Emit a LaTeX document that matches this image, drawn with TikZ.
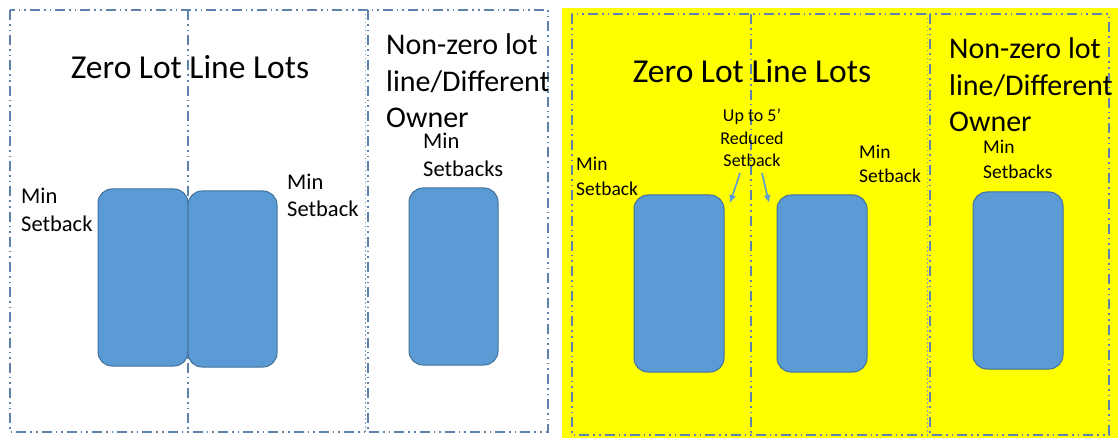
\documentclass[tikz,border=0pt]{standalone}
\usepackage{fontspec}
\setmainfont{Carlito}
\usetikzlibrary{arrows.meta}
\definecolor{lotblue}{HTML}{5B9BD5}
\definecolor{lotedge}{HTML}{41719C}
\definecolor{lineblue}{HTML}{5F82AC}
\definecolor{yel}{HTML}{FFFF00}
\newcommand\lotstack[2]{\begin{tabular}[t]{@{}#1@{}}#2\end{tabular}}
\begin{document}
\begin{tikzpicture}[x=1pt,y=-1pt,
  lotline/.style={draw=lineblue, line width=1.7pt, dash pattern=on 10pt off 4pt on 1.6pt off 4pt on 1.6pt off 4pt},
  dotline/.style={draw=lineblue!75, line width=1pt, dash pattern=on 1.5pt off 2.5pt},
  house/.style={fill=lotblue, draw=lotedge, line width=1pt, rounded corners=14pt, inner sep=0pt, minimum width=90pt, minimum height=177pt},
  bigtxt/.style={font=\fontsize{33.5}{40}\selectfont, inner sep=0pt, anchor=base},
  midtxt/.style={font=\fontsize{30}{36.5}\selectfont, inner sep=0pt, anchor=base west},
  smalltxt/.style={font=\fontsize{22.5}{28}\selectfont, inner sep=0pt, anchor=base west},
  ysmalltxt/.style={font=\fontsize{19.5}{25}\selectfont, inner sep=0pt, anchor=base west},
  tinytxt/.style={font=\fontsize{18}{22.5}\selectfont, inner sep=0pt, anchor=base},
  pointer/.style={draw=lotblue, line width=1.6pt, -{Latex[length=8pt,width=7pt]}}
]
\useasboundingbox (0,0) rectangle (1118,438);
\fill[white] (0,0) rectangle (1118,438);

% ---------- left panel ----------
\draw[lotline] (10,10) rectangle (548,432);
\draw[lotline] (188,10) -- (188,432);
\draw[lotline] (368,10) -- (368,432);
\draw[dotline] (365,10) -- (365,432);

\node[house] (b1) at (143,277.5) {};
\node[house, minimum width=89pt, minimum height=176pt] (b2) at (232.5,279) {};
\node[house, minimum width=89pt] (b3) at (453.5,276.5) {};

\node[bigtxt] (t1) at (190,79) {Zero Lot Line Lots};
\node[midtxt] (t2) at (386,55) {\lotstack{l}{Non-zero lot\\line/Different\\Owner}};
\node[smalltxt] (t3) at (423,149) {\lotstack{l}{Min\\Setbacks}};
\node[smalltxt] (t4) at (21,204) {\lotstack{l}{Min\\Setback}};
\node[smalltxt, font=\fontsize{22.5}{27}\selectfont] (t5) at (287,190) {\lotstack{l}{Min\\Setback}};

% ---------- right panel ----------
\fill[yel] (562,8) rectangle (1118,438);
\draw[lotline] (572,14) rectangle (1109,435);
\draw[lotline] (751,14) -- (751,435);
\draw[lotline] (930,14) -- (930,435);
\draw[dotline] (927,14) -- (927,435);

\node[house] (b4) at (679,283.5) {};
\node[house] (b5) at (822,283.5) {};
\node[house] (b6) at (1018,280.5) {};

\node[bigtxt] (y1) at (752,83) {Zero Lot Line Lots};
\node[midtxt] (y2) at (949,59) {\lotstack{l}{Non-zero lot\\line/Different\\Owner}};
\node[tinytxt] (y3) at (752,122) {\lotstack{c}{Up to 5’\\Reduced\\Setback}};
\node[ysmalltxt] (y4) at (576,171) {\lotstack{l}{Min\\Setback}};
\node[ysmalltxt, font=\fontsize{19.5}{24}\selectfont] (y5) at (859,159) {\lotstack{l}{Min\\Setback}};
\node[ysmalltxt] (y6) at (983,154) {\lotstack{l}{Min\\Setbacks}};

\coordinate (a1s) at (740,173);
\coordinate (a1e) at (730,203);
\coordinate (a2s) at (762,173);
\coordinate (a2e) at (769,203);
\draw[pointer] (a1s) -- (a1e);
\draw[pointer] (a2s) -- (a2e);
\end{tikzpicture}
\end{document}
